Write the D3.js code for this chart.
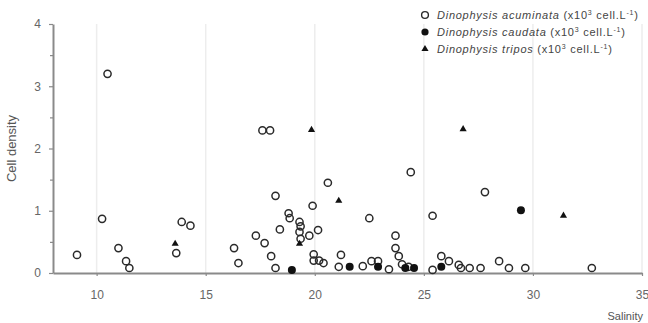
<!DOCTYPE html>
<html>
<head>
<meta charset="utf-8">
<script src="https://cdn.jsdelivr.net/npm/d3@7"></script>
<style>
body { margin: 0; background: #fff; }
svg text { font-family: "Liberation Sans", Arial, sans-serif; }
</style>
</head>
<body>
<svg id="chart" width="648" height="323"></svg>
<script>
// D. acuminata (open circles)
var acuminata_sal = [9.1, 10.25, 10.5, 11.0, 11.35, 11.5, 13.65, 13.9, 14.3, 16.3, 16.5, 17.3, 17.7, 17.6, 17.95,
    18.2, 18.0, 18.2, 18.4, 18.8, 18.85, 19.3, 19.35, 19.3, 19.35, 19.75, 19.9, 20.15, 19.95, 19.95, 20.2, 20.4,
    20.6, 21.1, 21.2, 22.5, 22.2, 22.6, 22.9, 23.4, 23.7, 23.7, 23.85, 24.0, 24.3, 24.4, 25.4, 25.4, 25.8, 26.15,
    26.6, 26.7, 27.1, 27.6, 27.8, 28.45, 28.9, 29.65, 32.7];
var acuminata_den = [0.29, 0.87, 3.2, 0.4, 0.19, 0.08, 0.32, 0.82, 0.76, 0.4, 0.16, 0.6, 0.48, 2.29, 2.29,
    1.24, 0.27, 0.08, 0.7, 0.96, 0.88, 0.82, 0.75, 0.66, 0.55, 0.6, 1.08, 0.69, 0.3, 0.2, 0.2, 0.16,
    1.45, 0.1, 0.29, 0.88, 0.11, 0.19, 0.19, 0.06, 0.6, 0.4, 0.27, 0.14, 0.1, 1.62, 0.92, 0.05, 0.27, 0.19,
    0.13, 0.08, 0.08, 0.08, 1.3, 0.19, 0.08, 0.08, 0.08];

// D. caudata (filled circles)
var caudata_sal = [18.95, 21.6, 22.9, 24.15, 24.55, 25.8, 29.45];
var caudata_den = [0.05, 0.1, 0.1, 0.08, 0.08, 0.1, 1.01];

// D. tripos (triangles)
var tripos_sal = [13.6, 19.85, 19.3, 21.1, 26.8, 31.4];
var tripos_den = [0.47, 2.3, 0.47, 1.16, 2.31, 0.92];

var x_ticks = [10, 15, 20, 25, 30, 35];
var y_ticks = [0, 1, 2, 3, 4];
var y_minor = [0.5, 1.5, 2.5, 3.5];

var legend_names = ["Dinophysis acuminata", "Dinophysis caudata", "Dinophysis tripos"];

var svg = d3.select("#chart");
var axis_color = "#8a8a8a";
var mark_color = "#2a2a2a";

var x = d3.scaleLinear().domain([8, 35]).range([53, 642]);
var y = d3.scaleLinear().domain([0, 4]).range([273, 24]);

// vertical grid
svg.append("g").selectAll("line")
    .data(x_ticks)
    .enter().append("line")
    .attr("x1", function(d){ return x(d); })
    .attr("x2", function(d){ return x(d); })
    .attr("y1", y(4))
    .attr("y2", y(0))
    .attr("stroke", "#ededed")
    .attr("stroke-width", 1.5);

// axes
var xAxis = svg.append("g")
    .attr("transform", "translate(0," + y(0) + ")")
    .call(d3.axisBottom(x).tickValues(x_ticks).tickSize(3).tickSizeOuter(0).tickPadding(14));
var yAxis = svg.append("g")
    .attr("transform", "translate(" + x(8) + ",0)")
    .call(d3.axisLeft(y).tickValues(y_ticks).tickSize(4).tickSizeOuter(0).tickFormat(d3.format("d")).tickPadding(8));
svg.append("g")
    .attr("transform", "translate(" + x(8) + ",0)")
    .call(d3.axisLeft(y).tickValues(y_minor).tickSize(3).tickFormat(""))
    .select(".domain").remove();

svg.selectAll(".domain").attr("stroke", axis_color).attr("stroke-width", 2);
svg.selectAll(".tick line").attr("stroke", axis_color).attr("stroke-width", 1.2);
svg.selectAll(".tick text")
    .attr("fill", "#666")
    .style("font-size", "12px");

// axis titles
svg.append("text")
    .attr("transform", "translate(16," + ((y(0) + y(4)) / 2) + ") rotate(-90)")
    .attr("text-anchor", "middle")
    .attr("fill", "#555")
    .style("font-size", "13px")
    .text("Cell density");
svg.append("text")
    .attr("x", 643)
    .attr("y", 320)
    .attr("text-anchor", "end")
    .attr("fill", "#555")
    .style("font-size", "11px")
    .text("Salinity");

// points
var tri = d3.symbol().type(d3.symbolTriangle).size(22);

svg.append("g").selectAll("circle")
    .data(d3.zip(acuminata_sal, acuminata_den))
    .enter().append("circle")
    .attr("cx", function(d){ return x(d[0]); })
    .attr("cy", function(d){ return y(d[1]); })
    .attr("r", 3.6)
    .attr("fill", "none")
    .attr("stroke", mark_color)
    .attr("stroke-width", 1.5);

svg.append("g").selectAll("circle")
    .data(d3.zip(caudata_sal, caudata_den))
    .enter().append("circle")
    .attr("cx", function(d){ return x(d[0]); })
    .attr("cy", function(d){ return y(d[1]); })
    .attr("r", 4)
    .attr("fill", "#111");

svg.append("g").selectAll("path")
    .data(d3.zip(tripos_sal, tripos_den))
    .enter().append("path")
    .attr("d", tri)
    .attr("transform", function(d){ return "translate(" + x(d[0]) + "," + y(d[1]) + ")"; })
    .attr("fill", "#111");

// legend
var legend = svg.append("g");
legend_names.forEach(function(name, i){
    var ly = 15 + i * 17;
    if (i == 0) {
        legend.append("circle").attr("cx", 425).attr("cy", ly).attr("r", 3.4)
            .attr("fill", "none").attr("stroke", mark_color).attr("stroke-width", 1.4);
    } else if (i == 1) {
        legend.append("circle").attr("cx", 425).attr("cy", ly).attr("r", 3.6).attr("fill", "#111");
    } else {
        legend.append("path").attr("d", tri).attr("transform", "translate(425," + ly + ")").attr("fill", "#111");
    }
    var t = legend.append("text")
        .attr("x", 437)
        .attr("y", ly + 4)
        .attr("fill", "#444")
        .style("font-size", "11px")
        .style("letter-spacing", "0.75px");
    t.append("tspan").style("font-style", "italic").text(name);
    t.append("tspan").text(" (x10");
    t.append("tspan").attr("dy", -4).style("font-size", "7px").text("3");
    t.append("tspan").attr("dy", 4).text(" cell.L");
    t.append("tspan").attr("dy", -4).style("font-size", "7px").text("-1");
    t.append("tspan").attr("dy", 4).text(")");
});
</script>
</body>
</html>
